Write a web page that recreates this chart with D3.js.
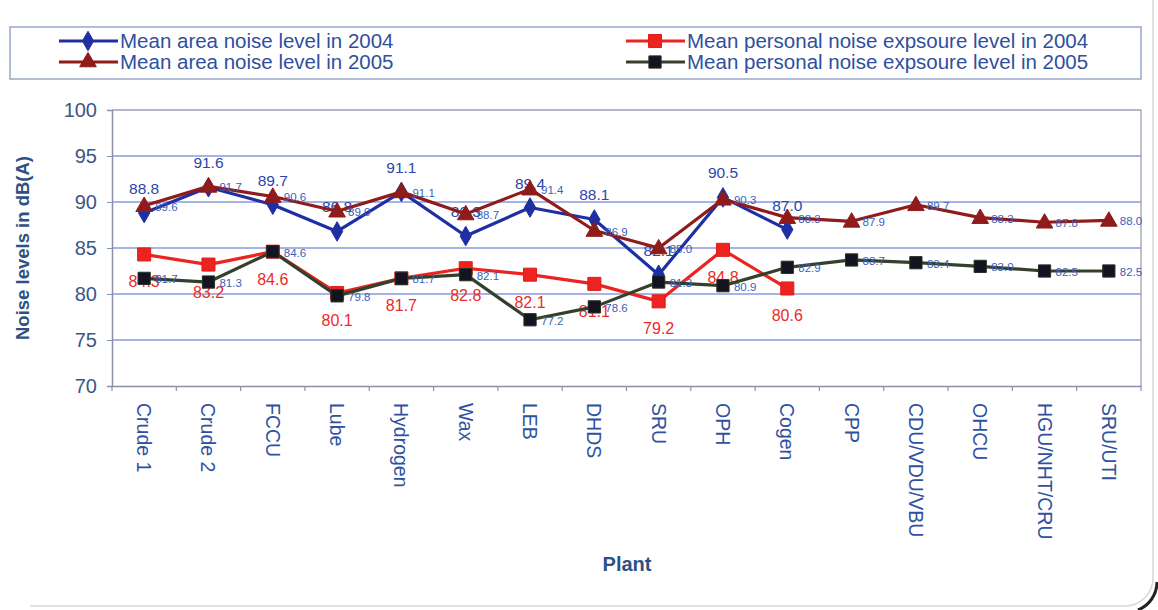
<!DOCTYPE html>
<html><head><meta charset="utf-8">
<script src="https://cdn.jsdelivr.net/npm/d3@7"></script>
<style>
body{margin:0;background:#fff;}
svg{display:block;font-family:"Liberation Sans",Arial,Helvetica,sans-serif;}
</style></head>
<body>
<svg id="chart" width="1158" height="610"></svg>
<script>
const categories = ["Crude 1","Crude 2","FCCU","Lube","Hydrogen","Wax","LEB","DHDS","SRU","OPH","Cogen","CPP","CDU/VDU/VBU","OHCU","HGU/NHT/CRU","SRU/UTI"];
const area2004 = [88.8, 91.6, 89.7, 86.8, 91.1, 86.3, 89.4, 88.1, 82.1, 90.5, 87.0];
const personal2004 = [84.3, 83.2, 84.6, 80.1, 81.7, 82.8, 82.1, 81.1, 79.2, 84.8, 80.6];
const area2005 = [89.6, 91.7, 90.6, 89.0, 91.1, 88.7, 91.4, 86.9, 85.0, 90.3, 88.3, 87.9, 89.7, 88.3, 87.8, 88.0];
const personal2005 = [81.7, 81.3, 84.6, 79.8, 81.7, 82.1, 77.2, 78.6, 81.3, 80.9, 82.9, 83.7, 83.4, 83.0, 82.5, 82.5];
const yTicks = [70, 75, 80, 85, 90, 95, 100];
const legendNames = ["Mean area noise level in 2004","Mean area noise level in 2005","Mean personal noise expsoure level in 2004","Mean personal noise expsoure level in 2005"];

const svg = d3.select("#chart");
const L = 112, R = 1141, T = 110, B = 386;
const x = d3.scaleBand().domain(categories).range([L, R]);
const y = d3.scaleLinear().domain([70, 100]).range([B, T]);
const cx = c => x(c) + x.bandwidth() / 2;

// card border
svg.append("path").attr("d","M1153,0 V578 A28,28 0 0 1 1125,606 H30")
  .attr("fill","none").attr("stroke","#d8d8d8").attr("stroke-width",1.5);
svg.append("path").attr("d","M1157,582 A30,30 0 0 1 1138,610")
  .attr("fill","none").attr("stroke","#222").attr("stroke-width",3);

// gridlines
svg.append("g").selectAll("line").data(yTicks.filter(v => v > 70 && v < 100)).join("line")
  .attr("x1", L).attr("x2", R).attr("y1", d => y(d)).attr("y2", d => y(d))
  .attr("stroke", "#8a9ade").attr("stroke-width", 1.5);
// plot frame top and right
svg.append("path").attr("d", `M${L},${y(100)} H${R} V${B}`).attr("fill","none").attr("stroke","#9aa0b4").attr("stroke-width",1.3);

// y axis
const yAxis = svg.append("g").attr("transform", `translate(${L},0)`)
  .call(d3.axisLeft(y).tickValues(yTicks).tickSize(5).tickPadding(10));
yAxis.select(".domain").attr("stroke","#8a90aa").attr("stroke-width",1.5);
yAxis.selectAll(".tick line").attr("stroke","#8a90aa");
yAxis.selectAll(".tick text").attr("font-size",20).attr("fill","#3d5688").attr("font-family","Liberation Sans, Arial");

// x axis
const xAxis = svg.append("g").attr("transform", `translate(0,${B})`)
  .call(d3.axisBottom(x).tickSize(0).tickPadding(0));
xAxis.select(".domain").attr("stroke","#8a90aa").attr("stroke-width",1.5);
xAxis.selectAll(".tick text").remove();
svg.append("g").selectAll("line").data(categories.concat(["__end"])).join("line")
  .attr("x1", (d,i) => L + i * x.bandwidth()).attr("x2", (d,i) => L + i * x.bandwidth())
  .attr("y1", B).attr("y2", B + 5).attr("stroke","#8a90aa").attr("stroke-width",1.2);
svg.append("g").selectAll("text").data(categories).join("text")
  .attr("transform", d => `translate(${cx(d) - 7},${B + 17}) rotate(90)`)
  .attr("font-size", 19.5).attr("fill", "#2f52a0").attr("text-anchor","start")
  .text(d => d);

// axis titles
svg.append("text").attr("transform","translate(29,248) rotate(-90)").attr("text-anchor","middle")
  .attr("font-size",18.5).attr("font-weight","bold").attr("fill","#2d5184").text("Noise levels in dB(A)");
svg.append("text").attr("x",627).attr("y",571).attr("text-anchor","middle")
  .attr("font-size",20).attr("font-weight","bold").attr("fill","#2d5184").text("Plant");

// series
const series = [
  {vals: area2004, line:"#1e2fa3", fill:"#1e2fa3", stroke:"#1e2fa3", sym:d3.symbolDiamond, size:110, lab:"above"},
  {vals: personal2004, line:"#ec2320", fill:"#ec2320", stroke:"#e01d1a", sym:d3.symbolSquare, size:170, lab:"below"},
  {vals: area2005, line:"#8f1b1b", fill:"#8f1b1b", stroke:"#8f1b1b", sym:d3.symbolTriangle, size:120, lab:"right"},
  {vals: personal2005, line:"#34402c", fill:"#12151f", stroke:"#2a2f28", sym:d3.symbolSquare, size:150, lab:"right"}
];
const lineGen = d3.line().x(d => cx(d.c)).y(d => y(d.v));
series.forEach(s => {
  const pts = s.vals.map((v,i) => ({c: categories[i], v}));
  const g = svg.append("g");
  g.append("path").datum(pts).attr("d", lineGen).attr("fill","none")
    .attr("stroke", s.line).attr("stroke-width", 3.2).attr("stroke-linejoin","round");
  g.selectAll("path.m").data(pts).join("path").attr("class","m")
    .attr("transform", d => `translate(${cx(d.c)},${y(d.v) + (s.sym === d3.symbolTriangle ? 1 : 0)})`)
    .attr("d", d3.symbol().type(s.sym).size(s.size))
    .attr("fill", s.fill).attr("stroke", s.stroke).attr("stroke-width", 1);
  const t = g.selectAll("text").data(pts).join("text").text(d => d.v.toFixed(1));
  if (s.lab === "above") {
    t.attr("x", d => cx(d.c)).attr("y", d => y(d.v) - 19).attr("text-anchor","middle")
      .attr("font-size",15.5).attr("fill","#2a46aa");
  } else if (s.lab === "below") {
    t.attr("x", d => cx(d.c)).attr("y", d => y(d.v) + 33).attr("text-anchor","middle")
      .attr("font-size",16).attr("fill","#ec2b28");
  } else {
    t.attr("x", d => cx(d.c) + 11).attr("y", d => y(d.v) + 5).attr("text-anchor","start")
      .attr("font-size",11.5).attr("fill","#3c5fb8");
  }
});

// legend
svg.append("rect").attr("x",10).attr("y",27).attr("width",1131).attr("height",52)
  .attr("fill","none").attr("stroke","#9aa6c8").attr("stroke-width",1.5);
const legPos = [{x:59,y:41},{x:59,y:62},{x:626,y:41},{x:626,y:62}];
const legSeries = [series[0], series[2], series[1], series[3]];
legendNames.forEach((name, i) => {
  const s = legSeries[i], p = legPos[i];
  const g = svg.append("g");
  g.append("line").attr("x1",p.x).attr("x2",p.x+59).attr("y1",p.y).attr("y2",p.y)
    .attr("stroke", s.line).attr("stroke-width",3.2);
  g.append("path").attr("transform",`translate(${p.x+29},${p.y})`)
    .attr("d", d3.symbol().type(s.sym).size(s.size)).attr("fill", s.fill).attr("stroke", s.stroke);
  g.append("text").attr("x",p.x+61).attr("y",p.y+7).attr("font-size",20.5)
    .attr("fill","#2f4f9e").text(name);
});
</script>
</body></html>
